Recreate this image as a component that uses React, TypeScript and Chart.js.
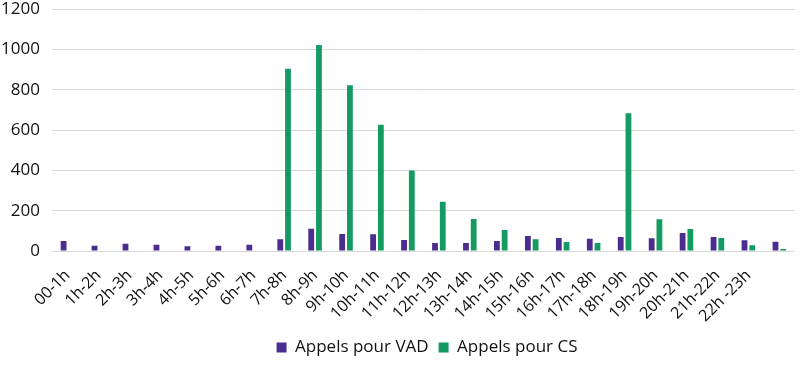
import React, { useEffect, useRef } from "react";
import { Chart, registerables } from "chart.js";

Chart.register(...registerables);

const categories = [
  "00-1h", "1h-2h", "2h-3h", "3h-4h", "4h-5h", "5h-6h", "6h-7h", "7h-8h",
  "8h-9h", "9h-10h", "10h-11h", "11h-12h", "12h-13h", "13h-14h", "14h-15h",
  "15h-16h", "16h-17h", "17h-18h", "18h-19h", "19h-20h", "20h-21h", "21h-22h",
  "22h -23h", "",
];

const appelsVAD = [50, 26, 36, 31, 23, 26, 31, 58, 111, 84, 83, 55, 40, 40, 50, 75, 65, 61, 70, 63, 89, 70, 53, 46];
const appelsCS = [0, 0, 0, 0, 0, 0, 0, 905, 1022, 823, 626, 399, 245, 159, 104, 58, 45, 40, 684, 157, 109, 65, 28, 10];

const seriesNames = ["Appels pour VAD", "Appels pour CS"];
const yTicks = [0, 200, 400, 600, 800, 1000, 1200];

const FONT = "'Open Sans', sans-serif";
const SHIFT = 13;

const legendShift = {
  id: "legendShift",
  afterLayout(chart: any) {
    if (chart.legend) {
      chart.legend.left += 29;
      chart.legend.right += 29;
    }
  },
};

export default function App() {
  const ref = useRef<HTMLCanvasElement | null>(null);

  useEffect(() => {
    if (!ref.current) return;
    const chart = new Chart(ref.current, {
      type: "bar",
      data: {
        labels: categories,
        datasets: [
          {
            label: seriesNames[0],
            data: appelsVAD,
            backgroundColor: "#4b2d8f",
            borderWidth: 0,
          },
          {
            label: seriesNames[1],
            data: appelsCS,
            backgroundColor: "#149b62",
            borderWidth: 0,
          },
        ],
      },
      plugins: [legendShift],
      options: {
        animation: false,
        responsive: false,
        maintainAspectRatio: false,
        datasets: {
          bar: { categoryPercentage: 0.5, barPercentage: 0.75 },
        },
        layout: { padding: { left: 0, right: 4, top: 0, bottom: 0 } },
        plugins: {
          legend: {
            position: "bottom",
            labels: {
              boxWidth: 10,
              boxHeight: 10,
              padding: 10,
              color: "#111",
              font: { family: FONT, size: 17 },
            },
          },
          tooltip: { enabled: false },
        },
        scales: {
          x: {
            grid: { display: false },
            border: { display: true, color: "#d9d9d9" },
            ticks: {
              color: "#111",
              font: { family: FONT, size: 16 },
              maxRotation: 45,
              minRotation: 45,
              autoSkip: false,
              padding: 7,
            },
            afterFit: (scale: any) => {
              scale.height = 78;
            },
          },
          y: {
            min: 0,
            max: 1200,
            afterBuildTicks: (scale: any) => {
              scale.ticks = yTicks.map((v) => ({ value: v }));
            },
            grid: { color: "#d9d9d9", drawTicks: false, lineWidth: 1 },
            border: { display: false },
            ticks: {
              color: "#111",
              font: { family: FONT, size: 17 },
              padding: 12,
              callback: (v: any) => String(v),
            },
            afterFit: (scale: any) => {
              scale.width = 52;
            },
          },
        },
      },
    });
    return () => chart.destroy();
  }, []);

  return (
    <div style={{ position: "fixed", left: 0, top: 0, width: 800, height: 366, background: "#fff", overflow: "hidden" }}>
      <canvas
        ref={ref}
        width={800}
        height={366 + SHIFT}
        style={{ display: "block", marginTop: -SHIFT }}
      />
    </div>
  );
}
